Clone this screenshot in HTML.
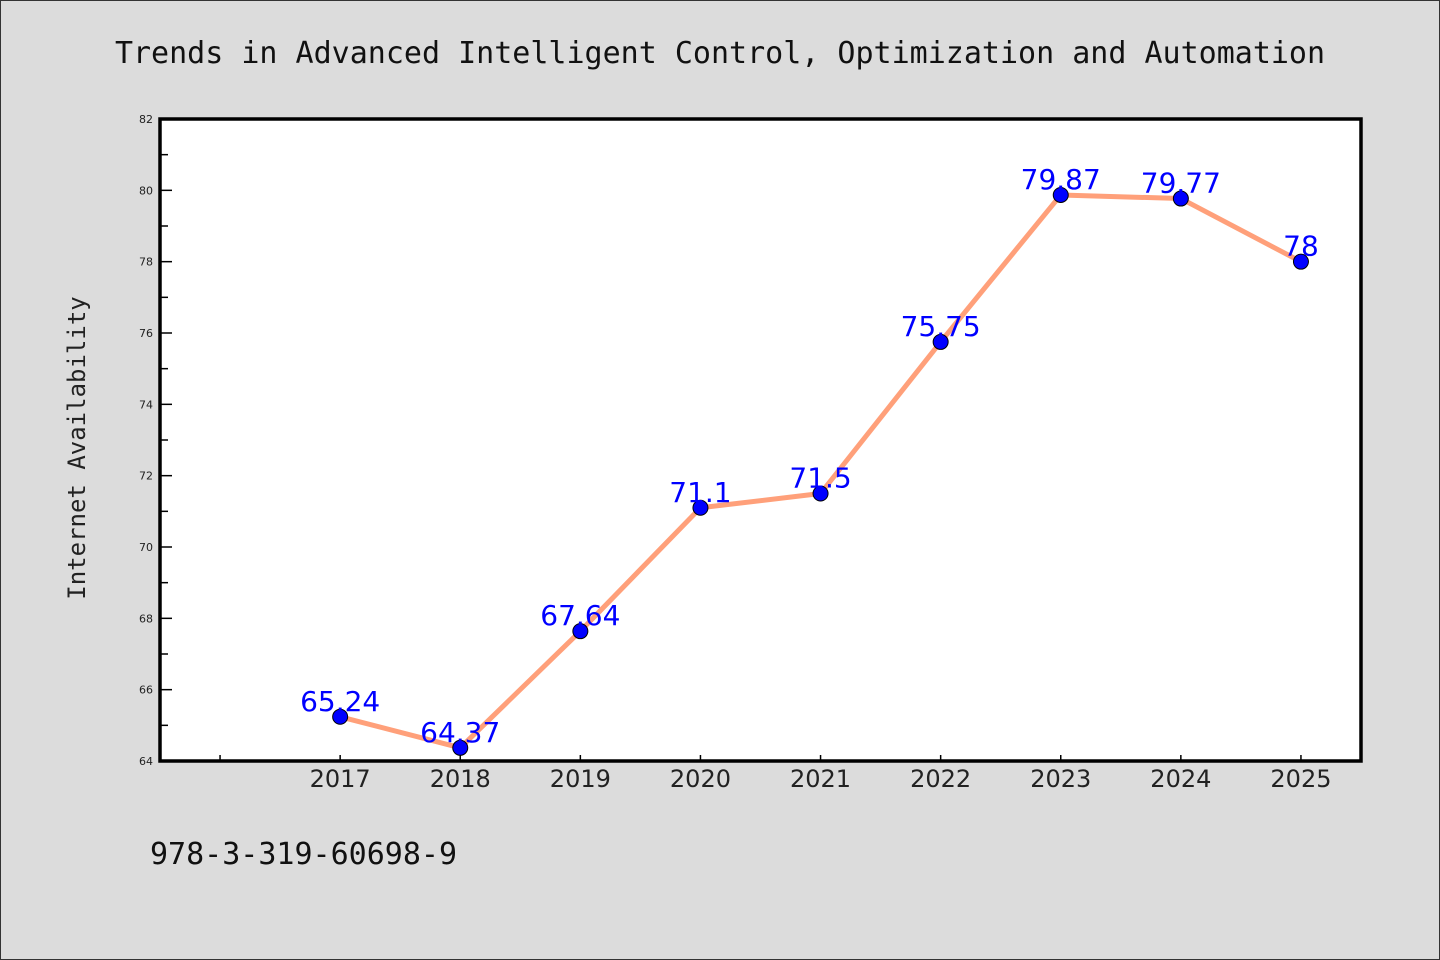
<!DOCTYPE html>
<html><head><meta charset="utf-8"><style>
html,body{margin:0;padding:0;background:#dcdcdc;}
svg{display:block;}
</style></head><body>
<svg id="chart" width="1440" height="960" xmlns="http://www.w3.org/2000/svg" font-family="'DejaVu Sans Mono','Liberation Mono',monospace">
<rect x="0.5" y="0.5" width="1439" height="959" fill="#dcdcdc" stroke="#333" stroke-width="1"/>
<text x="720" y="63" text-anchor="middle" font-size="30" fill="#111">Trends in Advanced Intelligent Control, Optimization and Automation</text>
<rect x="160" y="119" width="1201" height="642" fill="#fff"/>
<g id="ticks"></g>
<g id="series"></g>
<rect x="160" y="119" width="1201" height="642" fill="none" stroke="#000" stroke-width="3.5"/>
<text transform="translate(85,448) rotate(-90)" text-anchor="middle" font-size="24" fill="#222">Internet Availability</text>
<text x="150" y="864" font-size="30" fill="#111">978-3-319-60698-9</text>
</svg>
<script>
const years = [2017,2018,2019,2020,2021,2022,2023,2024,2025];
const values = [65.24,64.37,67.64,71.1,71.5,75.75,79.87,79.77,78];
const labels = ["65.24","64.37","67.64","71.1","71.5","75.75","79.87","79.77","78"];
const yTicks = [64,66,68,70,72,74,76,78,80,82];
const NS="http://www.w3.org/2000/svg";
const X0=160,X1=1361,Y0=761,Y1=119;
const xMin=2015.5,xMax=2025.5,yMin=64,yMax=82;
const xs=v=>X0+(v-xMin)/(xMax-xMin)*(X1-X0);
const ys=v=>Y0-(v-yMin)/(yMax-yMin)*(Y0-Y1);
function mk(tag,attrs,parent){const e=document.createElementNS(NS,tag);for(const k in attrs)e.setAttribute(k,attrs[k]);parent.appendChild(e);return e;}
const tg=document.getElementById('ticks');
yTicks.forEach((t,i)=>{
  const l=mk('line',{x1:X0,x2:X0+12,y1:ys(t),y2:ys(t),stroke:'#000','stroke-width':1.5},tg);
  
  
  if(i<yTicks.length-1){
    const m=mk('line',{x1:X0,x2:X0+8,y1:ys(t+1),y2:ys(t+1),stroke:'#000','stroke-width':1.5},tg);
    
    
  }
  const tx=mk('text',{x:X0-7,y:ys(t)+4,'text-anchor':'end','font-size':11,fill:'#222','font-family':"'DejaVu Sans',sans-serif"},tg);
  tx.textContent=t;
  
  
});
[2016].concat(years).forEach(y=>{
  const l=mk('line',{x1:xs(y),x2:xs(y),y1:Y0,y2:Y0-6,stroke:'#000','stroke-width':1.5},tg);
  
  
});
years.forEach(y=>{
  const tx=mk('text',{x:xs(y),y:Y0+26,'text-anchor':'middle','font-size':24,fill:'#222','font-family':"'DejaVu Sans','Liberation Sans',sans-serif"},tg);
  tx.textContent=y;
  
  
});
const sg=document.getElementById('series');
const pl=mk('polyline',{points:years.map((y,i)=>xs(y)+','+ys(values[i])).join(' '),fill:'none',stroke:'#ffa07a','stroke-width':5,'stroke-linejoin':'round'},sg);


years.forEach((y,i)=>{
  const c=mk('circle',{cx:xs(y),cy:ys(values[i]),r:7.5,fill:'#0000ff',stroke:'#000','stroke-width':1},sg);
  
  
  const t=mk('text',{x:xs(y),y:ys(values[i])-6,'text-anchor':'middle','font-size':28,fill:'#0000ff','font-family':"'DejaVu Sans','Liberation Sans',sans-serif"},sg);
  t.textContent=labels[i];
  
  
});
</script>
</body></html>
